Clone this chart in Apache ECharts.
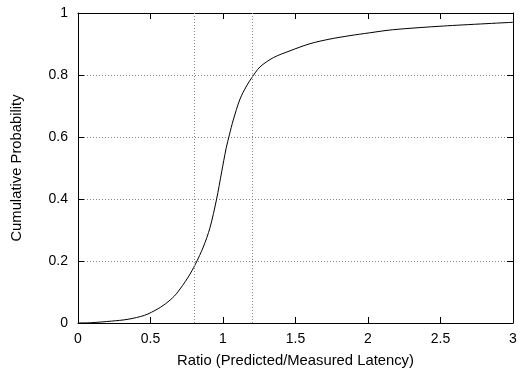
<!DOCTYPE html>
<html>
<head>
<meta charset="utf-8">
<script src="https://cdn.jsdelivr.net/npm/echarts@6/dist/echarts.min.js"></script>
<style>
  html, body { margin: 0; padding: 0; background: #fff; }
  #chart { width: 520px; height: 373px; }
</style>
</head>
<body>
<div id="chart"></div>
<script>
// CDF of predicted/measured latency ratio
var ratioValues = [0, 0.09, 0.23, 0.345, 0.46, 0.552, 0.62, 0.678, 0.76, 0.81,
  0.864, 0.91, 0.956, 0.991, 1.021, 1.044, 1.071, 1.117, 1.163, 1.198,
  1.255, 1.347, 1.462, 1.6, 1.738, 1.876, 2.01, 2.17, 2.52, 3.0];
var cumulativeProb = [0, 0.001, 0.006, 0.012, 0.025, 0.046, 0.068, 0.094, 0.148, 0.19,
  0.245, 0.307, 0.400, 0.488, 0.562, 0.607, 0.655, 0.722, 0.765, 0.791,
  0.826, 0.856, 0.878, 0.901, 0.916, 0.927, 0.936, 0.946, 0.958, 0.970];
var verticalGuides = [0.8, 1.2];

var font = 'Liberation Sans, Arial, sans-serif';
var points = ratioValues.map(function (x, i) { return [x, cumulativeProb[i]]; });

var tickStyle = { show: true, inside: true, length: 6, lineStyle: { color: '#000', width: 1 } };
var lineStyle = { show: true, onZero: false, lineStyle: { color: '#000', width: 1 } };
var gridLine = { show: true, lineStyle: { color: '#888', type: [1, 2], width: 1 } };

var option = {
  animation: false,
  backgroundColor: '#fff',
  grid: { left: 78, right: 7, top: 13, bottom: 47 },
  xAxis: [{
    type: 'value', min: 0, max: 3, interval: 0.5,
    axisLine: lineStyle, axisTick: tickStyle, splitLine: { show: false },
    axisLabel: { color: '#000', fontFamily: font, fontSize: 14, margin: 9 },
    name: 'Ratio (Predicted/Measured Latency)', nameLocation: 'middle', nameGap: 30,
    nameTextStyle: { color: '#000', fontFamily: font, fontSize: 14.8 }
  }, {
    // mirrored ticks on top
    type: 'value', position: 'top', min: 0, max: 3, interval: 0.5,
    axisLine: lineStyle, axisTick: tickStyle, axisLabel: { show: false }, splitLine: { show: false }
  }],
  yAxis: [{
    type: 'value', min: 0, max: 1, interval: 0.2,
    axisLine: lineStyle, axisTick: tickStyle, splitLine: gridLine,
    axisLabel: { color: '#000', fontFamily: font, fontSize: 14, margin: 10 },
    name: 'Cumulative Probability', nameLocation: 'middle', nameGap: 54,
    nameTextStyle: { color: '#000', fontFamily: font, fontSize: 14.8 }
  }, {
    // mirrored ticks on right
    type: 'value', position: 'right', min: 0, max: 1, interval: 0.2,
    axisLine: lineStyle, axisTick: tickStyle, axisLabel: { show: false }, splitLine: { show: false }
  }],
  series: [{
    type: 'line',
    data: points,
    smooth: 0.3,
    showSymbol: false,
    lineStyle: { color: '#000', width: 1 },
    markLine: {
      silent: true,
      symbol: 'none',
      label: { show: false },
      lineStyle: { color: '#888', type: [1, 2], width: 1 },
      data: verticalGuides.map(function (v) { return { xAxis: v }; })
    }
  }]
};

var myChart = echarts.init(document.getElementById('chart'));
myChart.setOption(option);
</script>
</body>
</html>
